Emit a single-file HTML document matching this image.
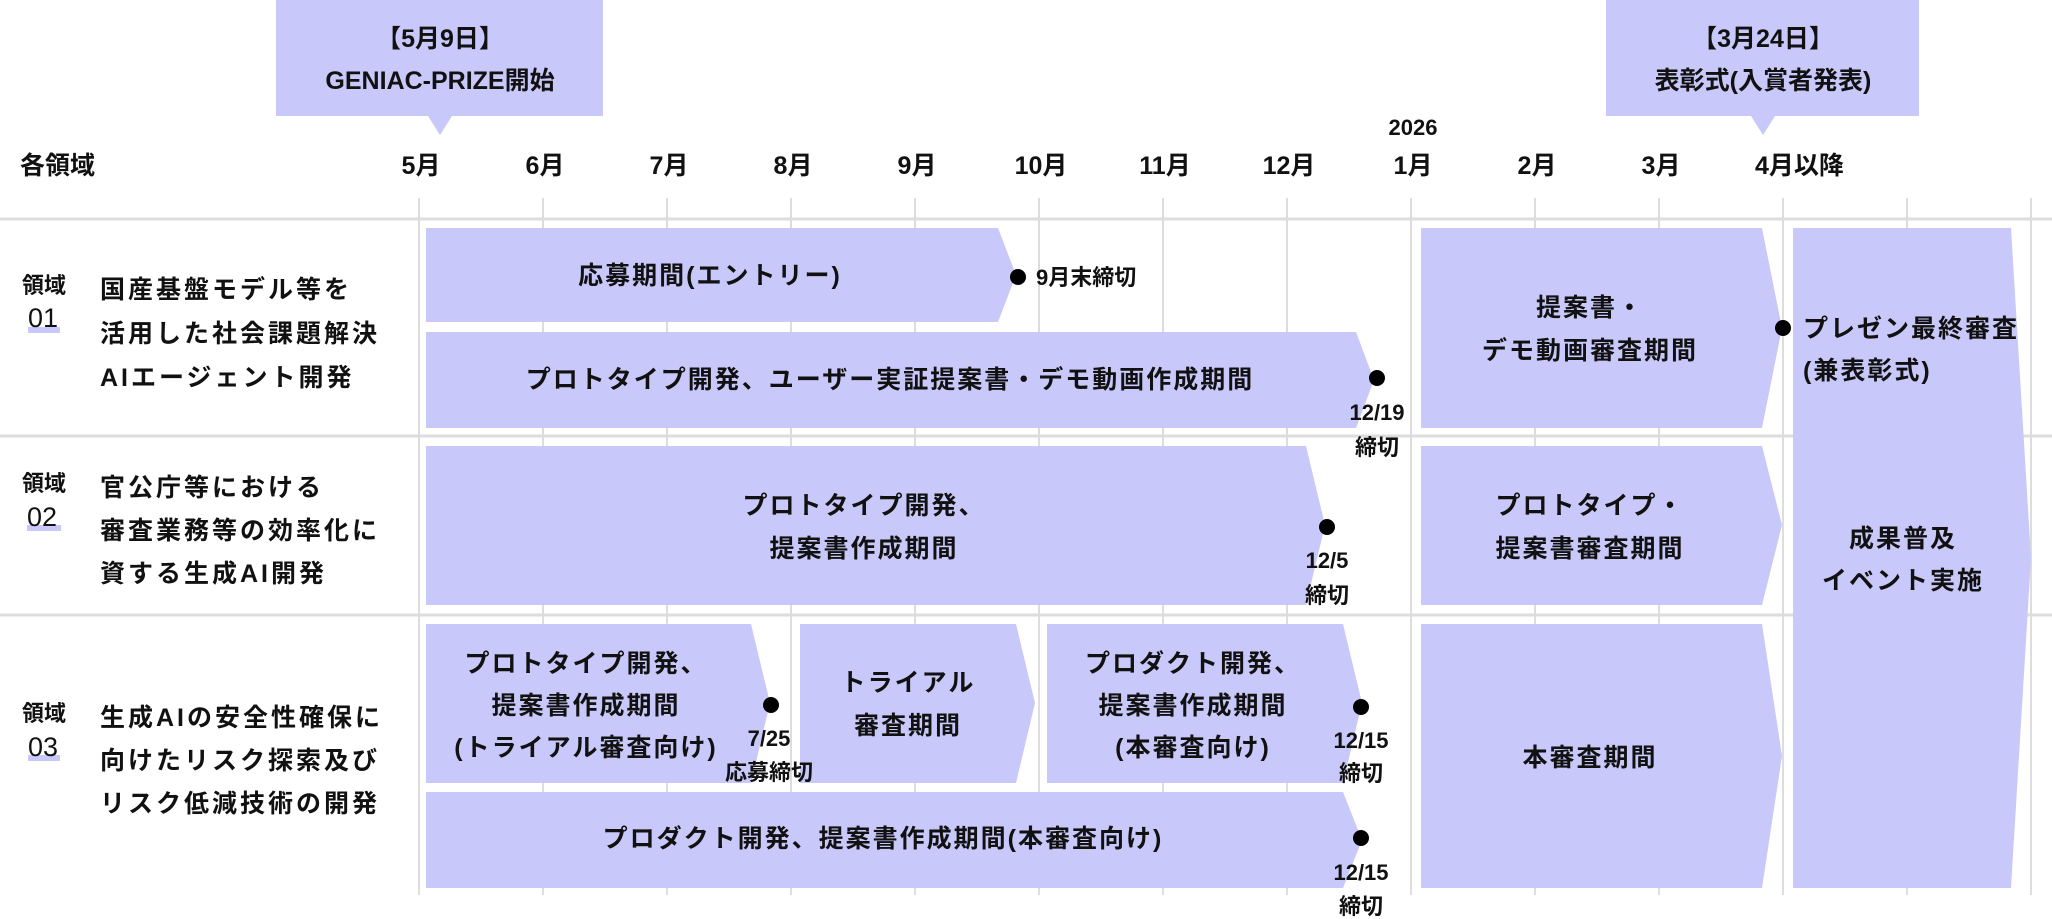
<!DOCTYPE html>
<html><head><meta charset="utf-8"><style>
html,body{margin:0;padding:0;background:#fff;}
svg{display:block;}
text{font-family:"Liberation Sans","Noto Sans CJK JP",sans-serif;font-weight:700;fill:#111;}
.t{font-size:25px;letter-spacing:2px;}
.m{font-size:25px;}
.s{font-size:22px;}
.l{font-size:25px;letter-spacing:3px;}
</style></head><body>
<svg width="2052" height="919" viewBox="0 0 2052 919" xmlns="http://www.w3.org/2000/svg">
<g stroke="#dddddd" stroke-width="2">
<line x1="419" y1="198" x2="419" y2="895"/>
<line x1="543" y1="198" x2="543" y2="895"/>
<line x1="667" y1="198" x2="667" y2="895"/>
<line x1="791" y1="198" x2="791" y2="895"/>
<line x1="915" y1="198" x2="915" y2="895"/>
<line x1="1039" y1="198" x2="1039" y2="895"/>
<line x1="1163" y1="198" x2="1163" y2="895"/>
<line x1="1287" y1="198" x2="1287" y2="895"/>
<line x1="1411" y1="198" x2="1411" y2="895"/>
<line x1="1535" y1="198" x2="1535" y2="895"/>
<line x1="1659" y1="198" x2="1659" y2="895"/>
<line x1="1783" y1="198" x2="1783" y2="895"/>
<line x1="1907" y1="198" x2="1907" y2="895"/>
<line x1="2031" y1="198" x2="2031" y2="895"/>
</g>
<g stroke="#dddddd" stroke-width="3">
<line x1="0" y1="219" x2="2052" y2="219"/>
<line x1="0" y1="436" x2="2052" y2="436"/>
<line x1="0" y1="615" x2="2052" y2="615"/>
</g>
<g fill="#c8c8fa">
<rect x="276" y="0" width="327" height="116"/>
<polygon points="428,116 452,116 440,135"/>
<rect x="1606" y="0" width="313" height="116"/>
<polygon points="1751,116 1775,116 1763,135"/>
</g>
<text class="m" x="440" y="47" text-anchor="middle">【5月9日】</text>
<text class="m" x="440" y="89" text-anchor="middle">GENIAC-PRIZE開始</text>
<text class="m" x="1763" y="47" text-anchor="middle">【3月24日】</text>
<text class="m" x="1763" y="89" text-anchor="middle">表彰式(入賞者発表)</text>
<text class="s" x="1413" y="135" text-anchor="middle">2026</text>
<text class="m" x="20" y="174">各領域</text>
<text class="m" x="421" y="174" text-anchor="middle">5月</text>
<text class="m" x="545" y="174" text-anchor="middle">6月</text>
<text class="m" x="669" y="174" text-anchor="middle">7月</text>
<text class="m" x="793" y="174" text-anchor="middle">8月</text>
<text class="m" x="917" y="174" text-anchor="middle">9月</text>
<text class="m" x="1041" y="174" text-anchor="middle">10月</text>
<text class="m" x="1165" y="174" text-anchor="middle">11月</text>
<text class="m" x="1289" y="174" text-anchor="middle">12月</text>
<text class="m" x="1413" y="174" text-anchor="middle">1月</text>
<text class="m" x="1537" y="174" text-anchor="middle">2月</text>
<text class="m" x="1661" y="174" text-anchor="middle">3月</text>
<text class="m" x="1755" y="174" text-anchor="start">4月以降</text>
<g fill="#c8c8fa">
<rect x="28" y="327" width="32" height="6"/>
<rect x="27" y="525" width="34" height="6"/>
<rect x="28" y="755" width="32" height="6"/>
</g>
<text class="s" x="22" y="293">領域</text>
<text class="m" x="28" y="327" style="font-weight:400;font-size:27px">01</text>
<text class="l" x="100" y="298">国産基盤モデル等を</text>
<text class="l" x="100" y="342">活用した社会課題解決</text>
<text class="l" x="100" y="386">AIエージェント開発</text>
<text class="s" x="22" y="491">領域</text>
<text class="m" x="27" y="526" style="font-weight:400;font-size:27px">02</text>
<text class="l" x="100" y="496">官公庁等における</text>
<text class="l" x="100" y="539">審査業務等の効率化に</text>
<text class="l" x="100" y="582">資する生成AI開発</text>
<text class="s" x="22" y="721">領域</text>
<text class="m" x="28" y="756" style="font-weight:400;font-size:27px">03</text>
<text class="l" x="100" y="726">生成AIの安全性確保に</text>
<text class="l" x="100" y="769">向けたリスク探索及び</text>
<text class="l" x="100" y="812">リスク低減技術の開発</text>
<g fill="#c8c8fa">
<polygon points="426,228 998,228 1016,275 998,322 426,322"/>
<polygon points="426,332 1356,332 1374,380 1356,428 426,428"/>
<polygon points="1421,228 1762,228 1782,328 1762,428 1421,428"/>
<polygon points="1793,228 2011,228 2031,558 2011,888 1793,888"/>
<polygon points="426,446 1306,446 1325,525 1306,605 426,605"/>
<polygon points="1421,446 1762,446 1782,525 1762,605 1421,605"/>
<polygon points="426,624 751,624 770,703 751,783 426,783"/>
<polygon points="800,624 1016,624 1035,703 1016,783 800,783"/>
<polygon points="1047,624 1343,624 1362,703 1343,783 1047,783"/>
<polygon points="426,792 1343,792 1362,840 1343,888 426,888"/>
<polygon points="1421,624 1762,624 1782,756 1762,888 1421,888"/>
</g>
<g fill="#000">
<circle cx="1018" cy="277" r="8"/>
<circle cx="1377" cy="378" r="8"/>
<circle cx="1783" cy="328" r="8"/>
<circle cx="1327" cy="527" r="8"/>
<circle cx="771" cy="705" r="8"/>
<circle cx="1361" cy="707" r="8"/>
<circle cx="1361" cy="838" r="8"/>
</g>
<text class="t" x="710" y="284" text-anchor="middle">応募期間(エントリー)</text>
<text class="t" x="890" y="388" text-anchor="middle">プロトタイプ開発、ユーザー実証提案書・デモ動画作成期間</text>
<text class="t" x="1590" y="316" text-anchor="middle">提案書・</text>
<text class="t" x="1590" y="359" text-anchor="middle">デモ動画審査期間</text>
<text class="t" x="864" y="514" text-anchor="middle">プロトタイプ開発、</text>
<text class="t" x="864" y="557" text-anchor="middle">提案書作成期間</text>
<text class="t" x="1590" y="514" text-anchor="middle">プロトタイプ・</text>
<text class="t" x="1590" y="557" text-anchor="middle">提案書審査期間</text>
<text class="t" x="586" y="672" text-anchor="middle">プロトタイプ開発、</text>
<text class="t" x="586" y="714" text-anchor="middle">提案書作成期間</text>
<text class="t" x="586" y="756" text-anchor="middle">(トライアル審査向け)</text>
<text class="t" x="908" y="691" text-anchor="middle">トライアル</text>
<text class="t" x="908" y="734" text-anchor="middle">審査期間</text>
<text class="t" x="1193" y="672" text-anchor="middle">プロダクト開発、</text>
<text class="t" x="1193" y="714" text-anchor="middle">提案書作成期間</text>
<text class="t" x="1193" y="756" text-anchor="middle">(本審査向け)</text>
<text class="t" x="883" y="847" text-anchor="middle">プロダクト開発、提案書作成期間(本審査向け)</text>
<text class="t" x="1590" y="766" text-anchor="middle">本審査期間</text>
<text class="t" x="1903" y="547" text-anchor="middle">成果普及</text>
<text class="t" x="1903" y="589" text-anchor="middle">イベント実施</text>
<text class="s" x="1036" y="285">9月末締切</text>
<text class="s" x="1377" y="420" text-anchor="middle">12/19</text>
<text class="s" x="1377" y="455" text-anchor="middle">締切</text>
<text class="t" x="1803" y="337">プレゼン最終審査</text>
<text class="t" x="1803" y="379">(兼表彰式)</text>
<text class="s" x="1327" y="568" text-anchor="middle">12/5</text>
<text class="s" x="1327" y="603" text-anchor="middle">締切</text>
<text class="s" x="769" y="746" text-anchor="middle">7/25</text>
<text class="s" x="769" y="780" text-anchor="middle">応募締切</text>
<text class="s" x="1361" y="748" text-anchor="middle">12/15</text>
<text class="s" x="1361" y="781" text-anchor="middle">締切</text>
<text class="s" x="1361" y="880" text-anchor="middle">12/15</text>
<text class="s" x="1361" y="914" text-anchor="middle">締切</text>
</svg>
</body></html>
